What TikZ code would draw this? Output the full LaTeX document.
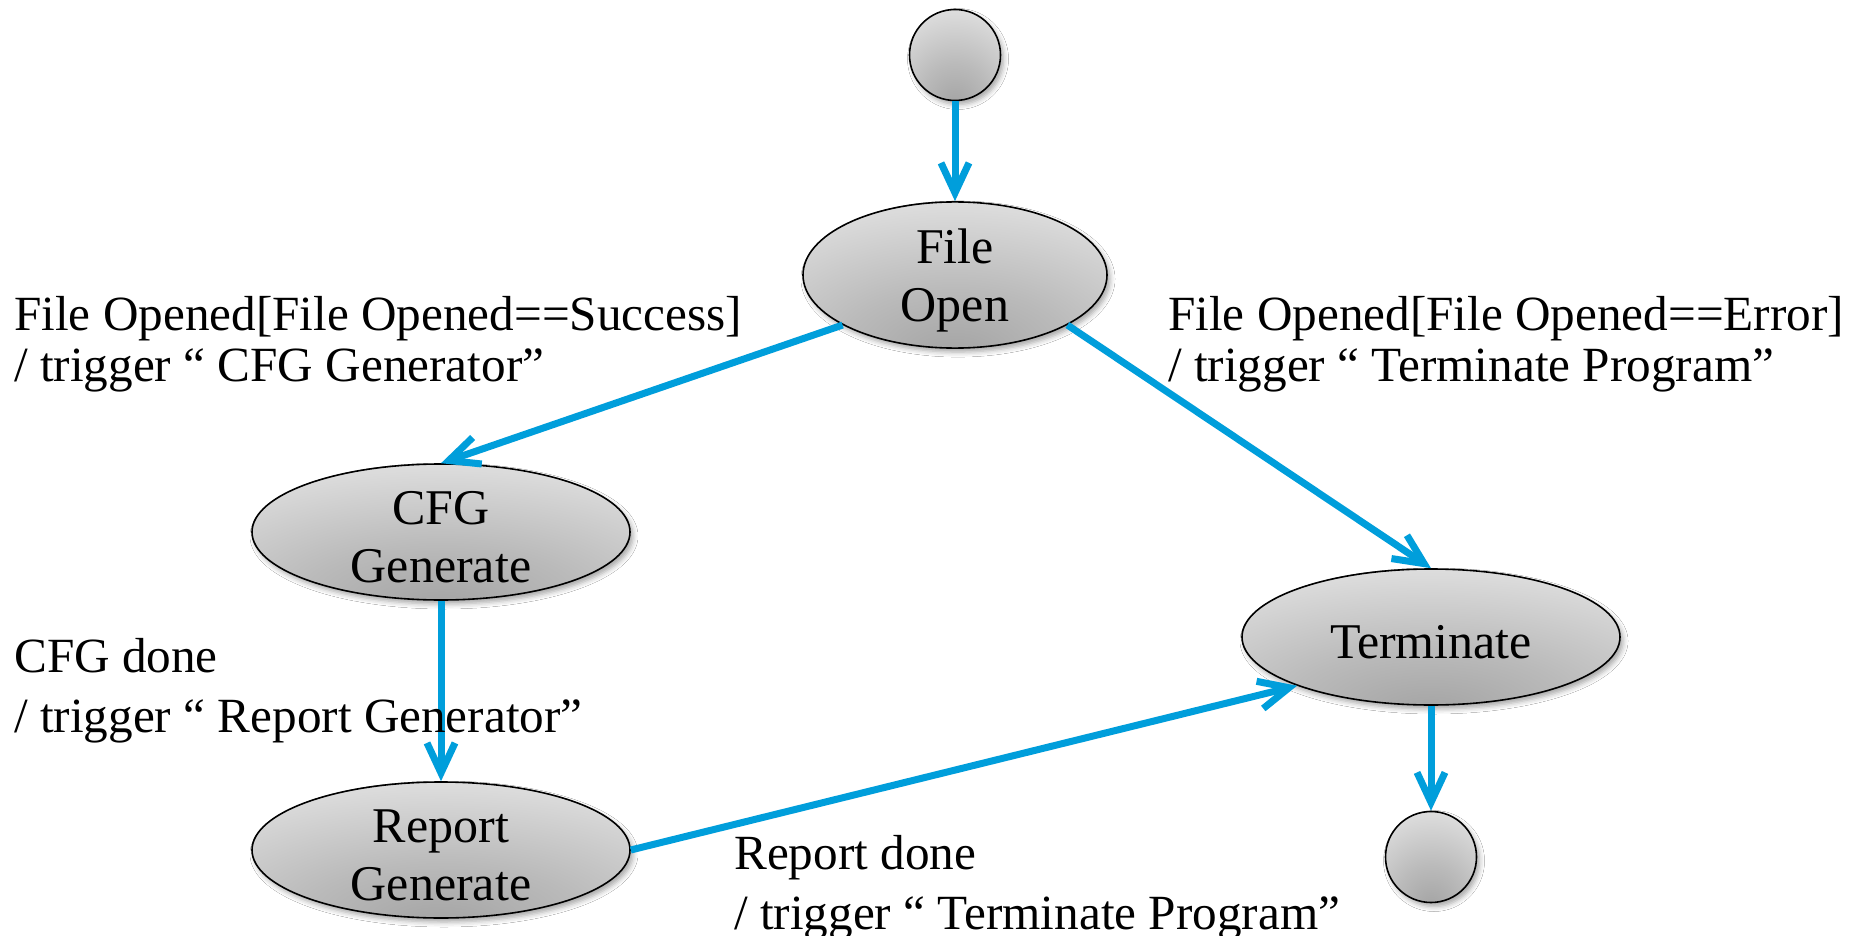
\documentclass[tikz,border=0pt]{standalone}
\usepackage{fontspec}
\setmainfont{Liberation Serif}
\usetikzlibrary{shapes.geometric, arrows.meta, shadows.blur}

\definecolor{flow}{RGB}{0,158,219}
% grey fill, darkest just above the bottom centre of the shape
\pgfdeclareradialshading{statefill}{\pgfpoint{0bp}{-28bp}}{%
  color(0bp)=(black!36); color(18bp)=(black!27); color(40bp)=(black!14);
  color(60bp)=(black!9); color(100bp)=(black!9)}

% set a line of state text a little lower without changing its box
\newcommand{\lowline}[1]{\raisebox{-5pt}[\height][\depth]{#1}}

\tikzset{
  shapebase/.style={draw=black, line width=1.6pt, shading=statefill,
    blur shadow={shadow xshift=3pt, shadow yshift=-4pt,
                 shadow blur radius=5pt, shadow opacity=35}},
  state/.style={shapebase, ellipse, minimum width=378pt, minimum height=136pt,
    inner sep=0pt, align=center, font=\fontsize{50}{58}\selectfont},
  pseudo/.style={shapebase, circle, minimum size=91pt, inner sep=0pt},
  flowarrow/.style={draw=flow, line width=7pt,
    -{Straight Barb[length=30pt, width=28pt]}},
  guard/.style={anchor=base west, align=left, inner sep=0pt}
}

\begin{document}
\begin{tikzpicture}[x=1pt, y=-1pt]
  \useasboundingbox (0,0) rectangle (1875,936);
  \fill[white] (0,0) rectangle (1875,936);

  % states
  \node[pseudo] (start) at (955,55) {};
  \node[state, minimum width=304pt] (fo) at (955,275)
    {\lowline{File}\\\lowline{Open}};
  \node[state] (cfg) at (441,532) {\lowline{CFG}\\\lowline{Generate}};
  \node[state] (rep) at (441,850) {\lowline{Report}\\\lowline{Generate}};
  \node[state] (term) at (1431,637) {\lowline{Terminate}};
  \node[pseudo] (end) at (1431,857) {};

  % transitions
  \draw[flowarrow] (start) -- (fo);
  \draw[flowarrow] (fo.204) -- (cfg.north);
  \draw[flowarrow] (fo.336) -- (term.north);
  \draw[flowarrow] (cfg) -- (rep);
  \draw[flowarrow] (rep.east) -- (term.200);
  \draw[flowarrow] (term) -- (end);

  % guards and actions (placed by the baseline of their last line)
  \node[guard, font=\fontsize{49.2}{51}\selectfont] (g1) at (14,381)
    {File Opened[File Opened==Success]\\/ trigger “ CFG Generator”};
  \node[guard, font=\fontsize{49.2}{51}\selectfont] (g2) at (1168,381)
    {File Opened[File Opened==Error]\\/ trigger “ Terminate Program”};
  \node[guard, font=\fontsize{49.2}{60}\selectfont] (g3) at (14,732)
    {CFG done\\/ trigger “ Report Generator”};
  \node[guard, font=\fontsize{49.2}{60}\selectfont] (g4) at (734,929)
    {Report done\\/ trigger “ Terminate Program”};
\end{tikzpicture}
\end{document}
